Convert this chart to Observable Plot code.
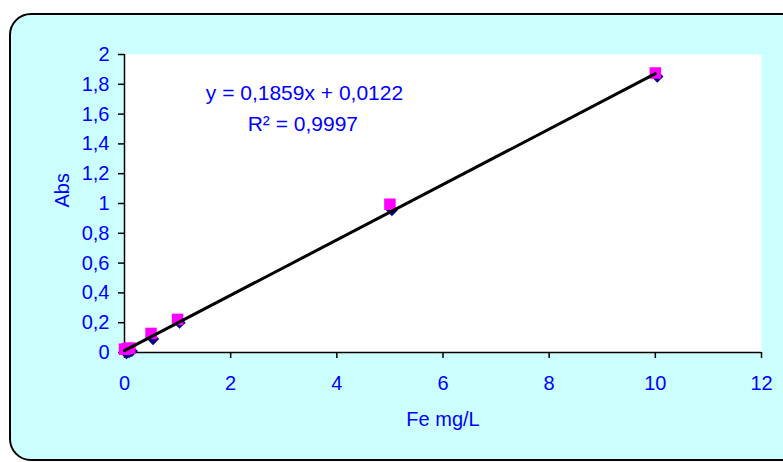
<!DOCTYPE html>
<html>
<head>
<meta charset="utf-8">
<script src="https://cdn.jsdelivr.net/npm/d3@7"></script>
<script src="https://cdn.jsdelivr.net/npm/@observablehq/plot@0.6"></script>
<style>
  html, body { margin: 0; padding: 0; background: #ffffff; }
  #wrap { position: relative; width: 783px; height: 462px; overflow: hidden; }
  #box { position: absolute; left: 9px; top: 13px; width: 790px; height: 444px;
         border: 2px solid #000; border-radius: 22px; background: #CCFFFF; }
  #chart { position: absolute; left: 0; top: 0; }
  #chart svg { background: transparent !important; }
</style>
</head>
<body>
<div id="wrap"><div id="box"></div><div id="chart"></div></div>
<script>
// Concentrations (Fe mg/L)
const concentrations = [0, 0.05, 0.1, 0.5, 1, 5, 10];
// Series 1 (blue diamonds)
const absSeries1 = [0.005, 0.012, 0.02, 0.10, 0.21, 0.966, 1.862];
// Series 2 (magenta squares)
const absSeries2 = [0.022, 0.026, 0.03, 0.128, 0.222, 0.995, 1.876];
// Trend line end points (y = 0,1859x + 0,0122)
const trendX = [0, 10];
const trendY = [0.0122, 1.8712];
// Tick values
const xTicks = [0, 2, 4, 6, 8, 10, 12];
const yTicks = [0, 0.2, 0.4, 0.6, 0.8, 1, 1.2, 1.4, 1.6, 1.8, 2];
// Labels
const equationLines = ["y = 0,1859x + 0,0122", "R² = 0,9997"];
const xLabel = "Fe mg/L";
const yLabel = "Abs";

const s1 = concentrations.map((x, i) => ({x, y: absSeries1[i]}));
const s2 = concentrations.map((x, i) => ({x, y: absSeries2[i]}));
const trend = trendX.map((x, i) => ({x, y: trendY[i]}));
const comma = d => String(+d.toFixed(1)).replace(".", ",");
const BLUE = "#0000FF";
const FONT = "Liberation Sans, Arial, sans-serif";

const chart = Plot.plot({
  width: 783,
  height: 462,
  marginLeft: 124,
  marginRight: 22,
  marginTop: 54,
  marginBottom: 110,
  style: {fontFamily: FONT, fontSize: "20px", background: "transparent"},
  x: {domain: [0, 12]},
  y: {domain: [0, 2]},
  marks: [
    Plot.frame({fill: "white", stroke: null}),
    Plot.axisX({ticks: xTicks, tickFormat: comma, tickSize: 6, tickPadding: 17,
                stroke: "black", strokeWidth: 1.5, fill: BLUE, fontSize: 20, label: null}),
    Plot.axisY({ticks: yTicks, tickFormat: comma, tickSize: 6, tickPadding: 9,
                stroke: "black", strokeWidth: 1.5, fill: BLUE, fontSize: 20, label: null}),
    Plot.ruleY([0], {stroke: "black", strokeWidth: 1.5}),
    Plot.ruleX([0], {stroke: "black", strokeWidth: 1.5}),
    Plot.dot(s1, {x: "x", y: "y", symbol: "diamond2", r: 5.5, fill: "#000080", stroke: "none", dx: 2, dy: 1.5}),
    Plot.dot(s2, {x: "x", y: "y", symbol: "square", r: 6.5, fill: "#FF00FF", stroke: "none"}),
    Plot.line(trend, {x: "x", y: "y", stroke: "black", strokeWidth: 3}),
    Plot.text([equationLines[0]], {x: 3.39, y: 1.74, text: d => d, fill: BLUE, fontSize: 21}),
    Plot.text([equationLines[1]], {x: 3.36, y: 1.53, text: d => d, fill: BLUE, fontSize: 21}),
    Plot.text([xLabel], {frameAnchor: "bottom", dy: 73, text: d => d, fill: BLUE, fontSize: 20}),
    Plot.text([yLabel], {frameAnchor: "left", dx: -62, dy: 4, rotate: -90, text: d => d, fill: BLUE, fontSize: 20})
  ]
});
document.getElementById("chart").appendChild(chart);
</script>
</body>
</html>
